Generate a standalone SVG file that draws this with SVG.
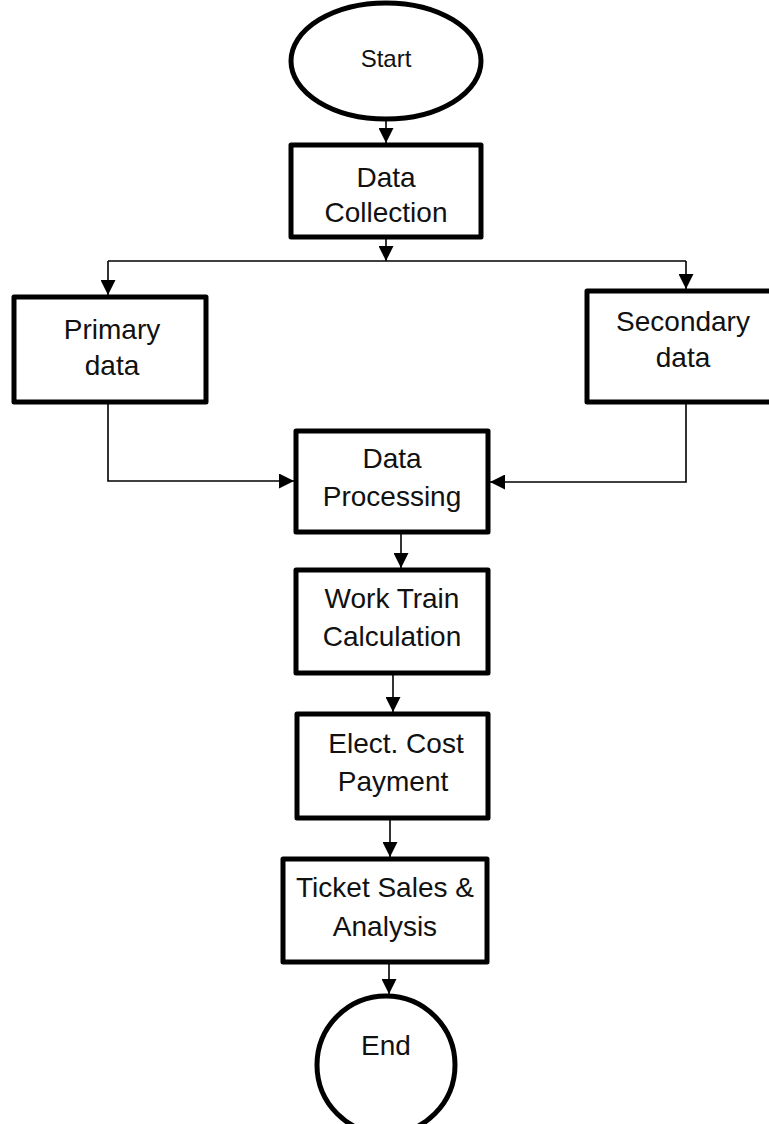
<svg xmlns="http://www.w3.org/2000/svg" width="769" height="1124" viewBox="0 0 769 1124">
<style>
.box{fill:#fff;stroke:#000;stroke-width:5;stroke-linejoin:round}
.t{font-family:"Liberation Sans",Arial,sans-serif;font-size:28px;fill:#111;text-anchor:middle}
.c{fill:none;stroke:#000;stroke-width:1.6}
</style>
<defs>
<marker id="ah" markerUnits="userSpaceOnUse" markerWidth="15" markerHeight="15" viewBox="0 0 15 15" refX="15" refY="7.5" orient="auto">
<path d="M0,0 L15,7.5 L0,15 Z" fill="#000"/>
</marker>
</defs>
<rect width="769" height="1124" fill="#fff"/>
<g id="connectors">
<path class="c" d="M386,121 V143" marker-end="url(#ah)"/>
<path class="c" d="M386,238 V261" marker-end="url(#ah)"/>
<path class="c" d="M108,261 H686"/>
<path class="c" d="M108,261 V295" marker-end="url(#ah)"/>
<path class="c" d="M686,261 V289" marker-end="url(#ah)"/>
<path class="c" d="M108,403 V481 H294" marker-end="url(#ah)"/>
<path class="c" d="M686,403 V482 H490" marker-end="url(#ah)"/>
<path class="c" d="M401,533 V568" marker-end="url(#ah)"/>
<path class="c" d="M393,674 V712" marker-end="url(#ah)"/>
<path class="c" d="M390,819 V857" marker-end="url(#ah)"/>
<path class="c" d="M389,963 V994" marker-end="url(#ah)"/>
</g>
<g id="start">
<ellipse class="box" cx="386" cy="61" rx="95" ry="58"/>
<text class="t" x="386" y="67" style="font-size:24px">Start</text>
</g>
<g id="data-collection">
<rect class="box" x="291" y="145" width="190" height="92"/>
<text class="t" x="386" y="187">Data</text>
<text class="t" x="386" y="222">Collection</text>
</g>
<g id="primary-data">
<rect class="box" x="14" y="297" width="192" height="105"/>
<text class="t" x="112" y="339">Primary</text>
<text class="t" x="112" y="375">data</text>
</g>
<g id="secondary-data">
<rect class="box" x="587" y="291" width="186" height="111"/>
<text class="t" x="683" y="331">Secondary</text>
<text class="t" x="683" y="367">data</text>
</g>
<g id="data-processing">
<rect class="box" x="296" y="431" width="192" height="101"/>
<text class="t" x="392" y="468">Data</text>
<text class="t" x="392" y="506">Processing</text>
</g>
<g id="work-train">
<rect class="box" x="296" y="570" width="192" height="103"/>
<text class="t" x="392" y="608">Work Train</text>
<text class="t" x="392" y="646">Calculation</text>
</g>
<g id="elect-cost">
<rect class="box" x="297" y="714" width="191" height="104"/>
<text class="t" x="396" y="753">Elect. Cost</text>
<text class="t" x="393" y="791">Payment</text>
</g>
<g id="ticket-sales">
<rect class="box" x="283" y="859" width="204" height="103"/>
<text class="t" x="385" y="897">Ticket Sales &amp;</text>
<text class="t" x="385" y="936">Analysis</text>
</g>
<g id="end">
<circle class="box" cx="386" cy="1065" r="69"/>
<text class="t" x="386" y="1055">End</text>
</g>
</svg>
